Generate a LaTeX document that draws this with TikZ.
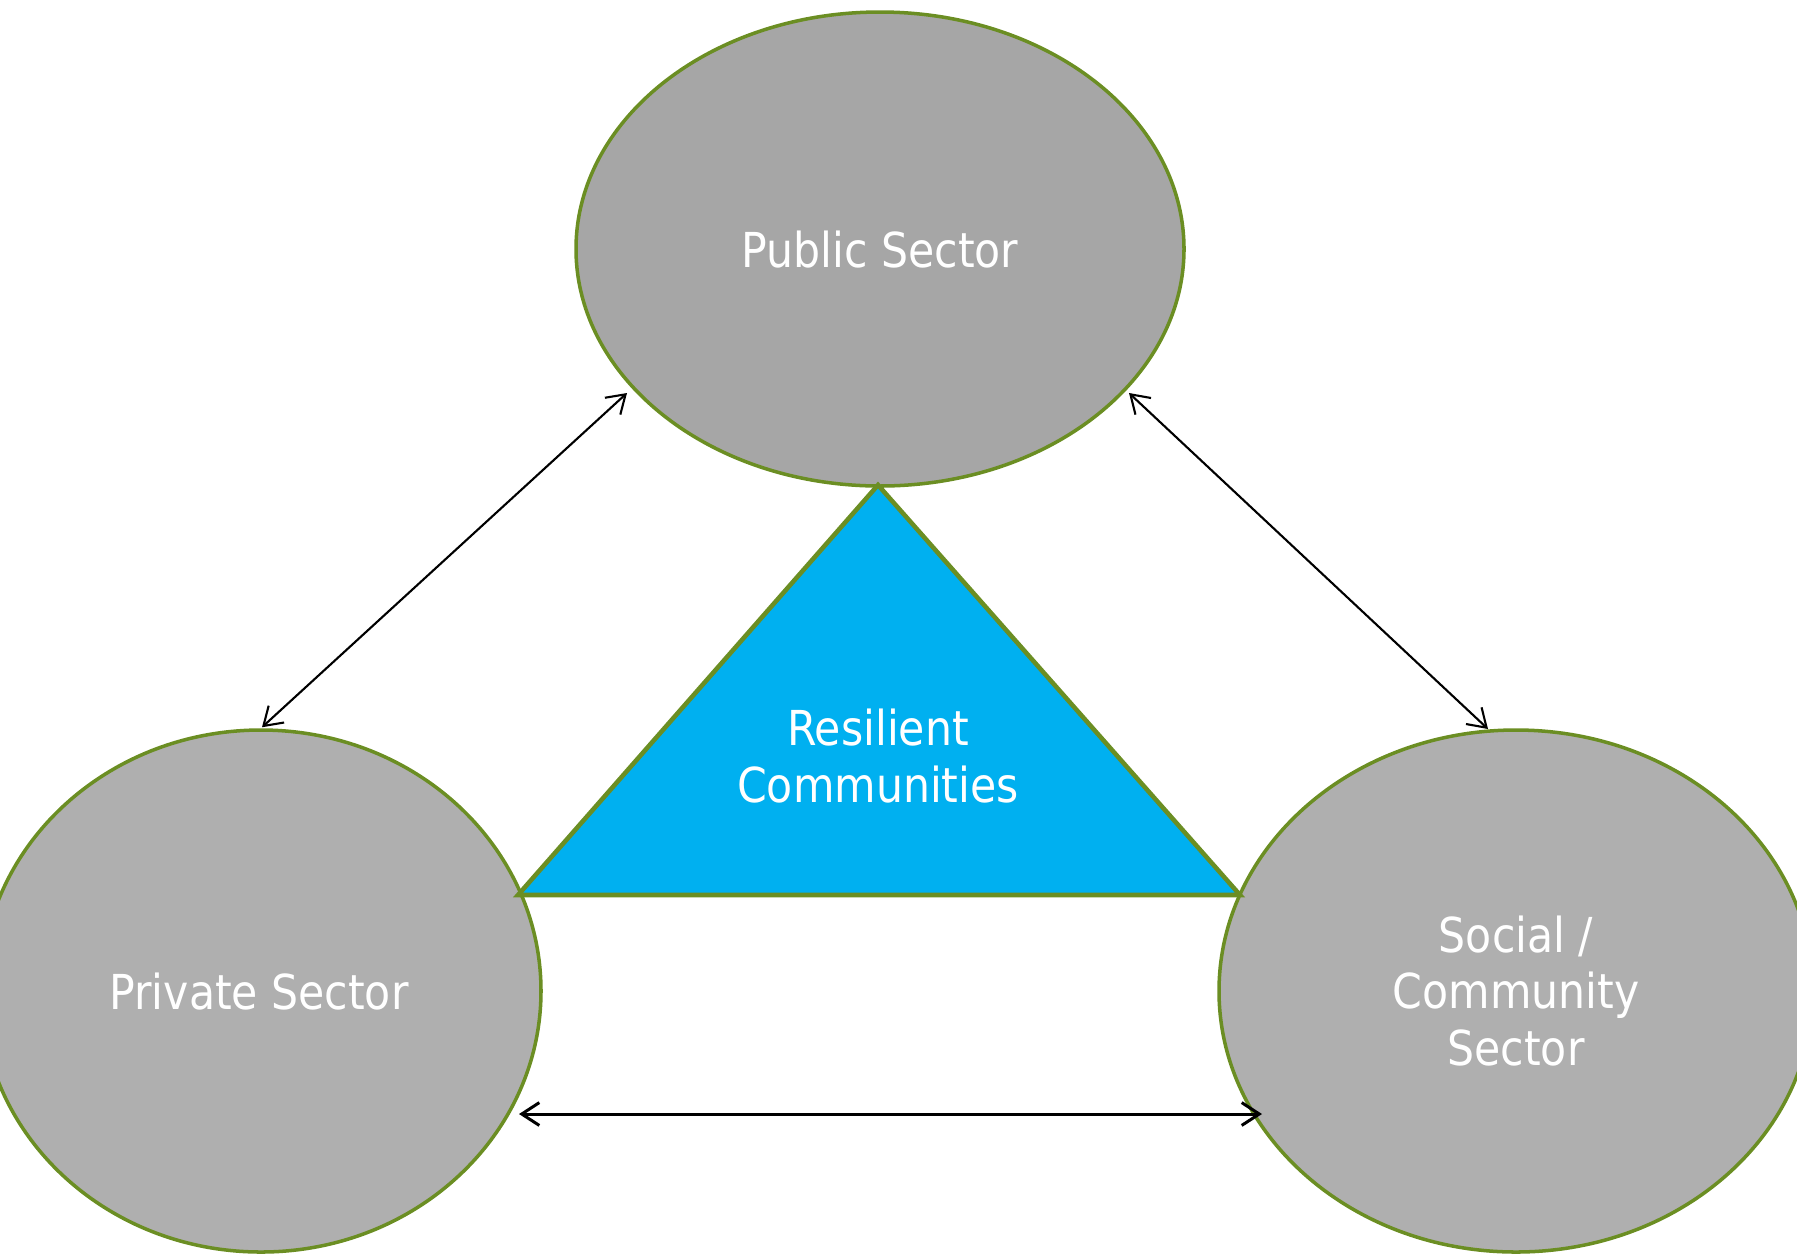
\documentclass[tikz,border=0pt]{standalone}
\usepackage{fontspec}
\setmainfont{DejaVu Sans}[FakeStretch=0.885]
\usetikzlibrary{arrows.meta,calc,shapes.geometric}
\definecolor{edgegreen}{RGB}{107,142,35}
\definecolor{pubgray}{RGB}{166,166,166}
\definecolor{sidegray}{RGB}{175,175,175}
\definecolor{triblue}{RGB}{0,176,240}
\tikzset{
  sector/.style={ellipse, draw=edgegreen, line width=1pt, inner sep=0pt, text=white},
  label/.style={text=white, align=center, font=\fontsize{13.7}{16.2}\selectfont},
  link/.style={draw=black, line width=0.6pt, {Straight Barb[length=5pt,width=6.5pt]}-{Straight Barb[length=5pt,width=6.5pt]}},
  linkb/.style={link, line width=0.85pt}
}
\begin{document}
\begin{tikzpicture}[x=0.1mm,y=-0.1mm]
\useasboundingbox (0,0) rectangle (1797,1254);
% sectors
\node[sector, fill=pubgray, minimum width=6.08cm, minimum height=4.74cm] (pub) at (880,249) {};
\node[sector, fill=sidegray, minimum width=5.6cm, minimum height=5.22cm] (priv) at (261,991) {};
\node[sector, fill=sidegray, minimum width=5.94cm, minimum height=5.22cm] (soc) at (1516,991) {};
% triangle
\draw[edgegreen, fill=triblue, line width=1.3pt, line join=miter]
  (878,485) -- (518,895) -- (1240,895) -- cycle;
% labels
\node[label] (publbl) at (880,250) {Public Sector};
\node[label] (privlbl) at (259,992) {Private Sector};
\node[label] (soclbl) at (1516,991) {Social /\\Community\\Sector};
\node[label] (reslbl) at (878,756) {Resilient\\Communities};
% connectors
\draw[link] ($(priv.north)+(1,-1)$) -- ($(pub.center)+(-253,144)$);
\draw[link] ($(pub.center)+(249,144)$) -- ($(soc.center)+(-28,-262)$);
\draw[linkb] ($(priv.center)+(258,123)$) -- ($(soc.center)+(-254,123)$);
\end{tikzpicture}
\end{document}
